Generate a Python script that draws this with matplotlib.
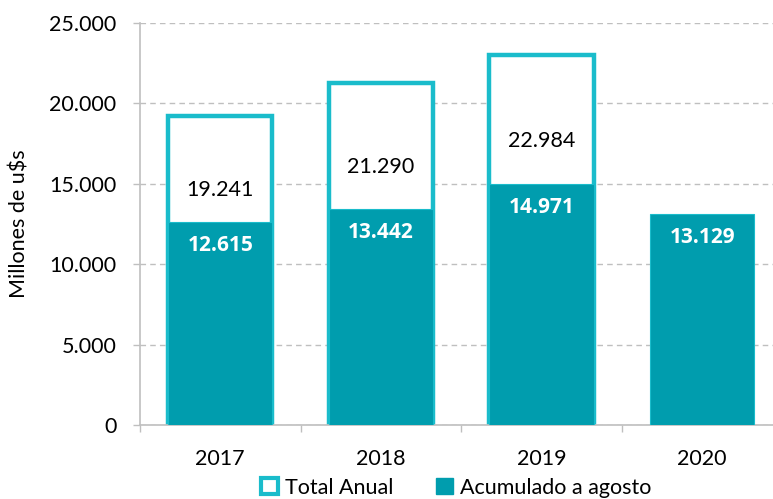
import numpy as np
import matplotlib.pyplot as plt
from matplotlib.patches import Patch

# data
years = ['2017', '2018', '2019', '2020']
total_anual = [19241, 21290, 22984, None]
acumulado = [12615, 13442, 14971, 13129]

edge_col = '#1ABCCB'
fill_col = '#009DAE'
grid_col = '#BFBFBF'

plt.rcParams['font.family'] = ['Lato', 'DejaVu Sans']
fs = 15.5

fig = plt.figure(figsize=(7.73, 4.99), dpi=100)
ax = fig.add_axes([140 / 773, 74 / 499, 633 / 773, 402 / 499])

x = np.arange(len(years))
w = 0.65

# total bars: white with thick cyan outline
for i, v in enumerate(total_anual):
    if v is None:
        continue
    ax.bar(x[i], v, width=w, color='white', edgecolor=edge_col, linewidth=3.2, zorder=2)
    mid = (acumulado[i] + v) / 2 - 1300
    ax.text(x[i], mid, f'{v:,}'.replace(',', '.'), ha='center', va='center',
            fontsize=fs, color='black', zorder=4)

# accumulated bars on top
ax.bar(x, acumulado, width=w, color=fill_col, edgecolor=edge_col, linewidth=0.8, zorder=3)
for i, v in enumerate(acumulado):
    ax.annotate(f'{v:,}'.replace(',', '.'), (x[i], v), xytext=(0, -17),
                textcoords='offset points', ha='center', va='center',
                fontsize=15, fontweight='bold', color='white', zorder=4,
                family=['Open Sans', 'DejaVu Sans'])

ax.set_ylim(0, 25000)
ax.set_xlim(-0.5, -0.5 + 633 / 160.6)
ax.set_yticks(range(0, 25001, 5000))
ax.set_yticklabels([f'{t:,}'.replace(',', '.') for t in range(0, 25001, 5000)], fontsize=fs)
ax.yaxis.grid(True, linestyle=(0, (4, 3)), color=grid_col, linewidth=1)
ax.set_axisbelow(True)

ax.set_xticks(x)
ax.set_xticklabels(years, fontsize=fs)
ax.tick_params(axis='x', length=0, pad=17)
ax.set_xticks(np.arange(-0.5, 3, 1), minor=True)
ax.tick_params(axis='x', which='minor', length=5, color=grid_col, width=1)
ax.tick_params(axis='y', length=5, color=grid_col, width=1, pad=12)

for s in ['top', 'right']:
    ax.spines[s].set_visible(False)
for s in ['left', 'bottom']:
    ax.spines[s].set_color(grid_col)
    ax.spines[s].set_linewidth(1.2)

ax.set_ylabel('Millones de u$s', fontsize=fs, labelpad=14)

handles = [Patch(facecolor='white', edgecolor=edge_col, linewidth=3, label='Total Anual'),
           Patch(facecolor=fill_col, edgecolor=fill_col, label='Acumulado a agosto')]
fig.legend(handles=handles, loc='lower center', bbox_to_anchor=(0.59, -0.036), ncol=2,
           frameon=False, fontsize=fs, handlelength=0.8, handleheight=0.8,
           handletextpad=0.3, columnspacing=2.0)

fig.savefig('out.png', dpi=100)
